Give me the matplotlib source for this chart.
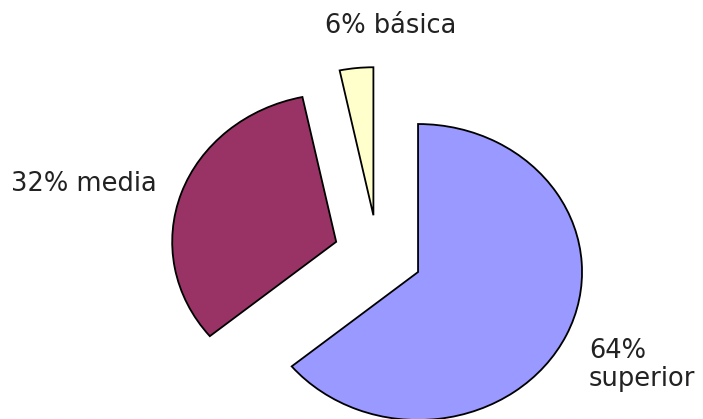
import matplotlib
matplotlib.use('Agg')
import matplotlib.pyplot as plt

# slice data (clockwise from 12 o'clock)
categories = ['superior', 'media', 'básica']
shares = [64, 32.7, 3.3]      # wedge sizes
label_texts = ['64%\nsuperior', '32% media', '6% básica']
colors = ['#9999ff', '#993366', '#ffffcc']
explode = [0.27, 0.27, 0.27]

fig = plt.figure(figsize=(7.03, 4.19), dpi=100)
ax = fig.add_axes([0, 0, 1, 1])

ax.pie(shares, colors=colors, explode=explode, startangle=90, counterclock=False,
       wedgeprops=dict(edgecolor='black', linewidth=1.3))

# pie is stretched a bit horizontally in the original
ax.set_aspect('auto')
ax.set_xlim(-2.305, 1.982)
ax.set_ylim(-1.108, 1.723)
ax.axis('off')

font = dict(family='DejaVu Sans', fontsize=18.5, color='#222222')
ax.text(391 / 703, 1 - 26 / 419, label_texts[2], transform=fig.transFigure,
        ha='center', va='center', **font)
ax.text(11 / 703, 1 - 184 / 419, label_texts[1], transform=fig.transFigure,
        ha='left', va='center', **font)
ax.text(589 / 703, 1 - 365 / 419, label_texts[0], transform=fig.transFigure,
        ha='left', va='center', linespacing=1.1, **font)

fig.savefig('out.png', dpi=100, facecolor='white')
